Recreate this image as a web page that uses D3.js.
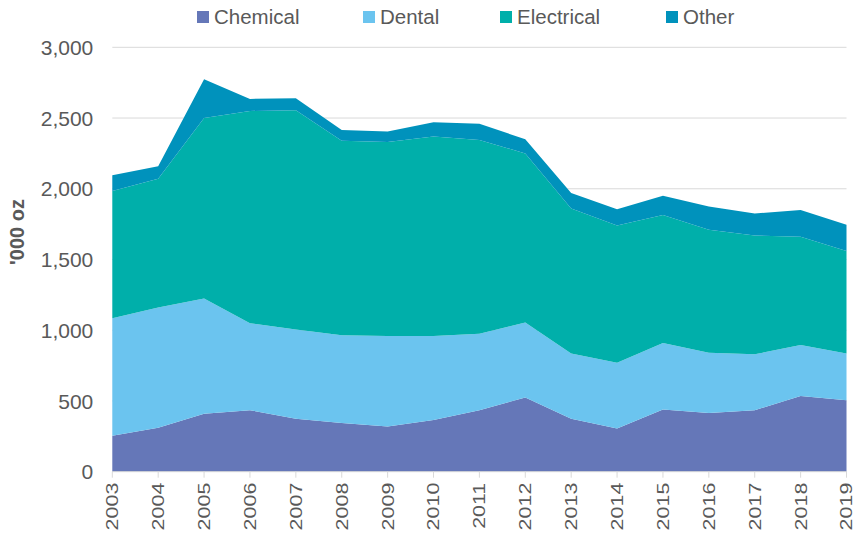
<!DOCTYPE html>
<html>
<head>
<meta charset="utf-8">
<script src="https://cdn.jsdelivr.net/npm/d3@7"></script>
<style>
  body { margin: 0; background: #fff; }
  text { font-family: "Liberation Sans", Arial, sans-serif; fill: #595959; }
</style>
</head>
<body>
<div id="chart"></div>
<script>
// Datos ('000 oz)
var years = [2003, 2004, 2005, 2006, 2007, 2008, 2009, 2010, 2011, 2012, 2013, 2014, 2015, 2016, 2017, 2018, 2019];
var chemical   = [255, 310, 410, 435, 375, 345, 320, 365, 435, 525, 375, 305, 440, 415, 435, 535, 505];
var dental     = [830, 850, 815, 615, 630, 620, 640, 595, 540, 530, 460, 465, 470, 425, 395, 360, 330];
var electrical = [900, 910, 1275, 1500, 1550, 1375, 1370, 1410, 1370, 1195, 1025, 970, 905, 870, 840, 765, 725];
var other      = [110, 90, 275, 85, 85, 75, 75, 100, 115, 100, 110, 115, 135, 165, 155, 190, 185];
var keys = ["Chemical", "Dental", "Electrical", "Other"];
var colors = ["#6577b8", "#6bc4ef", "#00afaa", "#0092bc"];
var yTicks = [0, 500, 1000, 1500, 2000, 2500, 3000];

var W = 854, H = 536;
var margin = {top: 47.3, right: 7.5, bottom: 64.3, left: 112.3};
var width = W - margin.left - margin.right;
var height = H - margin.top - margin.bottom;

var svg = d3.select("#chart").append("svg")
  .attr("width", W).attr("height", H)
  .append("g")
  .attr("transform", "translate(" + margin.left + "," + margin.top + ")");

var data = years.map(function(y, i) {
  return {year: y, Chemical: chemical[i], Dental: dental[i], Electrical: electrical[i], Other: other[i]};
});

var stacked = d3.stack().keys(keys)(data);

var x = d3.scaleLinear().domain(d3.extent(years)).range([0, width]);
var y = d3.scaleLinear().domain([0, 3000]).range([height, 0]);
var color = d3.scaleOrdinal().domain(keys).range(colors);

// lineas de la rejilla
svg.append("g").selectAll("line")
  .data(yTicks.slice(1))
  .enter().append("line")
  .attr("x1", 0).attr("x2", width)
  .attr("y1", function(d) { return y(d); })
  .attr("y2", function(d) { return y(d); })
  .attr("stroke", "#d9d9d9").attr("stroke-width", 1);

// etiquetas eje Y
svg.append("g").selectAll("text")
  .data(yTicks)
  .enter().append("text")
  .attr("x", -19)
  .attr("y", function(d) { return y(d); })
  .attr("dy", "0.36em")
  .attr("text-anchor", "end")
  .style("font-size", "21px")
  .text(function(d) { return d3.format(",")(d); });

// areas
var area = d3.area()
  .x(function(d) { return x(d.data.year); })
  .y0(function(d) { return y(d[0]); })
  .y1(function(d) { return y(d[1]); });

svg.append("g").selectAll("path")
  .data(stacked)
  .enter().append("path")
  .attr("fill", function(d) { return color(d.key); })
  .attr("d", area);

// eje X
svg.append("line")
  .attr("x1", 0).attr("x2", width)
  .attr("y1", height).attr("y2", height)
  .attr("stroke", "#d9d9d9");

svg.append("g").selectAll("line")
  .data(years)
  .enter().append("line")
  .attr("x1", function(d) { return x(d); })
  .attr("x2", function(d) { return x(d); })
  .attr("y1", height).attr("y2", height + 6)
  .attr("stroke", "#d9d9d9");

svg.append("g").selectAll("text")
  .data(years)
  .enter().append("text")
  .attr("transform", function(d) { return "translate(" + x(d) + "," + (height + 11) + ") rotate(-90) scale(1.3,1)"; })
  .attr("dy", "0.36em")
  .attr("text-anchor", "end")
  .style("font-size", "16.5px")
  .text(function(d) { return d; });

// titulo eje Y
svg.append("text")
  .attr("transform", "translate(" + (17 - margin.left) + "," + (232 - margin.top) + ") rotate(-90)")
  .attr("dy", "0.36em")
  .attr("text-anchor", "middle")
  .style("font-size", "20px")
  .style("font-weight", "bold")
  .text("'000 oz");

// leyenda
var legendX = [197, 363, 500, 666];
var legend = d3.select("svg").append("g");
legend.selectAll("rect")
  .data(keys)
  .enter().append("rect")
  .attr("x", function(d, i) { return legendX[i]; })
  .attr("y", 11)
  .attr("width", 12).attr("height", 12)
  .attr("fill", function(d) { return color(d); });
legend.selectAll("text")
  .data(keys)
  .enter().append("text")
  .attr("x", function(d, i) { return legendX[i] + 17; })
  .attr("y", 17)
  .attr("dy", "0.36em")
  .style("font-size", "20.5px")
  .text(function(d) { return d; });
</script>
</body>
</html>
